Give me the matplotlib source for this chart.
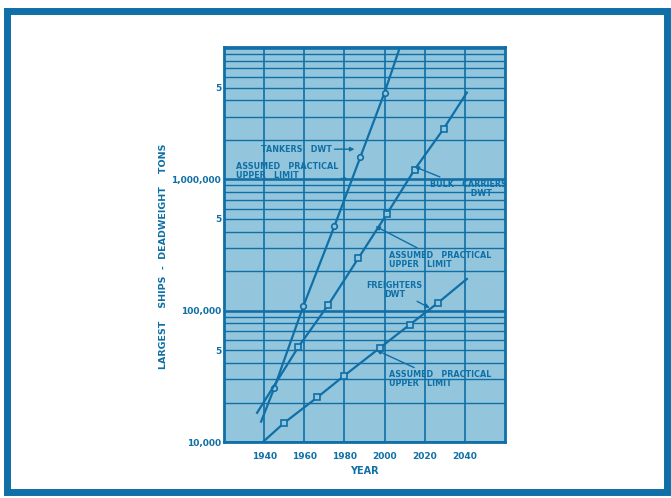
import numpy as np
import matplotlib.pyplot as plt
from matplotlib.patches import Rectangle
from matplotlib.ticker import FixedLocator, LogLocator, NullFormatter

# data (first and last points are the ends of the trend lines)
tanker_years = [1938.5, 1945, 1959.5, 1975, 1988, 2000, 2007.5]
tanker_dwt = [14300, 25700, 108000, 440000, 1490000, 4590000, 10000000]

bulk_years = [1936.5, 1957, 1972, 1987, 2001, 2015, 2029.5, 2041]
bulk_dwt = [16700, 52800, 111000, 252000, 541000, 1190000, 2440000, 4590000]

freight_years = [1940, 1950, 1966.5, 1980, 1997.5, 2012.5, 2026.5, 2041]
freight_dwt = [10200, 14000, 21900, 32100, 51900, 78200, 114500, 174600]

year_ticks = [1940, 1960, 1980, 2000, 2020, 2040]
dwt_ticks = [1e4, 5e4, 1e5, 5e5, 1e6, 5e6]
dwt_labels = ['10,000', '5', '100,000', '5', '1,000,000', '5']

blue = '#0f6fa6'
bg = '#93c6dc'

plt.rcParams['font.family'] = 'DejaVu Sans'
plt.rcParams['font.weight'] = 'bold'

fig = plt.figure(figsize=(6.71, 4.98), dpi=100)
fig.patch.set_facecolor('white')

# blue frame around the page
fig.patches.append(Rectangle((0.011, 0.012), 0.983, 0.966, transform=fig.transFigure,
                             fill=False, edgecolor=blue, linewidth=5))

ax = fig.add_axes([0.3338, 0.1124, 0.4188, 0.7932])
ax.set_facecolor(bg)
ax.set_yscale('log')
ax.set_xlim(1920, 2060)
ax.set_ylim(1e4, 1.02e7)

# graph-paper grid
ax.xaxis.set_major_locator(FixedLocator(year_ticks))
ax.yaxis.set_major_locator(FixedLocator(dwt_ticks))
ax.yaxis.set_minor_locator(LogLocator(base=10, subs=np.arange(1, 10)))
ax.yaxis.set_minor_formatter(NullFormatter())
ax.set_yticklabels(dwt_labels)
ax.grid(True, which='both', axis='y', color=blue, lw=1.0)
ax.grid(True, which='major', axis='x', color=blue, lw=1.2)
for v in [1e4, 1e5, 1e6, 1e7]:
    ax.axhline(v, color=blue, lw=1.8)
for s in ax.spines.values():
    s.set_color(blue)
    s.set_linewidth(2)

ax.tick_params(axis='both', which='both', length=0, colors=blue, labelsize=6.5, pad=2)
ax.tick_params(axis='x', pad=7)

ax.plot(tanker_years, tanker_dwt, color=blue, lw=1.6, marker='o', markersize=4,
        markerfacecolor=bg, markeredgecolor=blue, markeredgewidth=1.2, markevery=range(1, 6))
ax.plot(bulk_years, bulk_dwt, color=blue, lw=1.6, marker='s', markersize=4,
        markerfacecolor=bg, markeredgecolor=blue, markeredgewidth=1.2, markevery=range(1, 7))
ax.plot(freight_years, freight_dwt, color=blue, lw=1.6, marker='s', markersize=4,
        markerfacecolor=bg, markeredgecolor=blue, markeredgewidth=1.2, markevery=range(1, 7))

arrow = dict(arrowstyle='-|>', color=blue, lw=1.0, mutation_scale=6, shrinkA=0, shrinkB=0)
tk = dict(color=blue, fontsize=5.8, fontweight='bold', linespacing=1.0)

ax.annotate('TANKERS   DWT', xy=(1985, 1.7e6), xytext=(1956, 1.7e6),
            ha='center', va='center', arrowprops=arrow, **tk)
ax.annotate('ASSUMED   PRACTICAL\nUPPER   LIMIT', xy=(1982, 1.0e6), xytext=(1926, 1.16e6),
            ha='left', va='center', arrowprops=arrow, **tk)
ax.annotate('BULK   CARRIERS\n         DWT', xy=(2015, 1.25e6), xytext=(2042, 8.5e5),
            ha='center', va='center', arrowprops=arrow, **tk)
ax.annotate('ASSUMED   PRACTICAL\nUPPER   LIMIT', xy=(1995.5, 4.4e5), xytext=(2002, 2.45e5),
            ha='left', va='center', arrowprops=arrow, **tk)
ax.annotate('FREIGHTERS\nDWT', xy=(2022.5, 1.05e5), xytext=(2005, 1.45e5),
            ha='center', va='center', arrowprops=arrow, **tk)
ax.annotate('ASSUMED   PRACTICAL\nUPPER   LIMIT', xy=(1996, 5.0e4), xytext=(2002, 3.0e4),
            ha='left', va='center', arrowprops=arrow, **tk)

ax.set_xlabel('YEAR', color=blue, fontsize=7, fontweight='bold', labelpad=4)
fig.text(0.243, 0.485, 'LARGEST    SHIPS  -  DEADWEIGHT    TONS', rotation=90,
         ha='center', va='center', color=blue, fontsize=6.8, fontweight='bold')

fig.savefig('out.png', dpi=100)
